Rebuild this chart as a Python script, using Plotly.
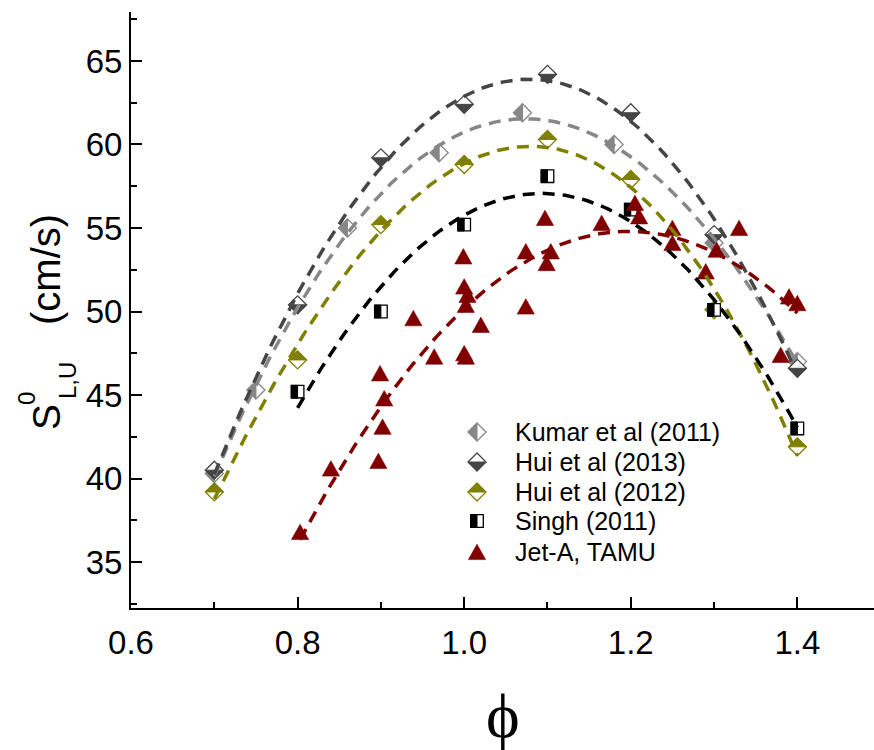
import numpy as np
import plotly.graph_objects as go

# ---- laminar flame speed data: equivalence ratio vs S_L,U (cm/s) ----
kumar_phi = [0.70, 0.75, 0.86, 0.97, 1.07, 1.18, 1.30, 1.40]
kumar_s = [40.3, 45.3, 55.0, 59.5, 61.9, 60.0, 54.1, 47.0]

hui13_phi = [0.70, 0.80, 0.90, 1.00, 1.10, 1.20, 1.30, 1.40]
hui13_s = [40.5, 50.4, 59.2, 62.4, 64.2, 61.9, 54.6, 46.6]

hui12_phi = [0.70, 0.80, 0.90, 1.00, 1.10, 1.20, 1.30, 1.40]
hui12_s = [39.2, 47.1, 55.2, 58.8, 60.3, 57.9, 50.1, 41.9]

singh_phi = [0.80, 0.90, 1.00, 1.10, 1.20, 1.30, 1.40]
singh_s = [45.2, 50.0, 55.2, 58.1, 56.1, 50.1, 43.0]

jeta_phi = [0.803, 0.840, 0.897, 0.902, 0.904, 0.899, 0.939, 0.964, 1.000, 1.002,
            1.002, 1.004, 1.000, 0.999, 1.020, 1.074, 1.074, 1.097, 1.099, 1.104,
            1.165, 1.205, 1.210, 1.250, 1.250, 1.290, 1.303, 1.330, 1.380, 1.390,
            1.400]
jeta_s = [36.8, 40.6, 41.05, 43.1, 44.8, 46.3, 49.6, 47.3, 47.5, 47.3,
          50.4, 51.0, 51.5, 53.3, 49.2, 50.3, 53.6, 55.6, 52.9, 53.6,
          55.3, 56.5, 55.7, 55.0, 54.1, 52.4, 53.7, 55.0, 47.4, 50.9,
          50.5]

series_names = ["Kumar et al (2011)", "Hui et al (2013)", "Hui et al (2012)",
                "Singh (2011)", "Jet-A, TAMU"]

x_ticks = [0.6, 0.8, 1.0, 1.2, 1.4]
x_tick_text = ["0.6", "0.8", "1.0", "1.2", "1.4"]
x_minor = [0.7, 0.9, 1.1, 1.3]
y_ticks = [35, 40, 45, 50, 55, 60, 65]
y_minor = [32.5, 37.5, 42.5, 47.5, 52.5, 57.5, 62.5, 67.5]

# ---- styling ----
C_KUMAR = "#878787"
C_HUI13 = "#454545"
C_HUI12 = "#808000"
C_SINGH = "#000000"
C_JETA = "#800000"

FONT = "Liberation Sans, Arial, sans-serif"
W, H = 874, 750
L, R, T, B = 131, 874, 12, 608


def px_x(px):
    return (px - L) / (R - L)


def px_y(py):
    return (B - py) / (B - T)


D = 9.0    # diamond half-diagonal (px)
S = 6.3    # square half-side (px)
OUTLINE = {
    "diamond": f"M {-D},0 L 0,{D} L {D},0 L 0,{-D} Z",
    "square": f"M {-S},{-S} L {S},{-S} L {S},{S} L {-S},{S} Z",
}
HALF = {
    ("diamond", "left"): f"M {-D},0 L 0,{D} L 0,{-D} Z",
    ("diamond", "bottom"): f"M {-D},0 L {D},0 L 0,{-D} Z",
    ("diamond", "top"): f"M {-D},0 L {D},0 L 0,{D} Z",
    ("square", "left"): f"M {-S},{-S} L 0,{-S} L 0,{S} L {-S},{S} Z",
}
TRI = "M -8.6,-7.6 L 8.6,-7.6 L 0,7.8 Z"


def anchored(x, y, xref, yref, layer):
    return dict(type="path", xref=xref, yref=yref, xsizemode="pixel",
                ysizemode="pixel", xanchor=x, yanchor=y, layer=layer)


def half_marker(x, y, kind, half, color, xref="x", yref="y", layer="below"):
    base = anchored(x, y, xref, yref, layer)
    return [
        dict(base, path=OUTLINE[kind], fillcolor="white",
             line=dict(color=color, width=1.3)),
        dict(base, path=HALF[(kind, half)], fillcolor=color,
             line=dict(color=color, width=1)),
    ]


def triangle(x, y, color, xref="x", yref="y", layer="below"):
    return dict(anchored(x, y, xref, yref, layer), path=TRI, fillcolor=color,
                line=dict(color=color, width=0.6))


groups = [
    (kumar_phi, kumar_s, "diamond", "left", C_KUMAR, 3),
    (hui13_phi, hui13_s, "diamond", "bottom", C_HUI13, 3),
    (hui12_phi, hui12_s, "diamond", "top", C_HUI12, 3),
    (singh_phi, singh_s, "square", "left", C_SINGH, 2),
]

fig = go.Figure()
shapes = []

# symbols are pixel-sized shapes anchored to the data coordinates;
# the scatter traces carry the same points for hovering
for (xs, ys, kind, half, color, _), name in zip(groups, series_names):
    for x, y in zip(xs, ys):
        shapes += half_marker(x, y, kind, half, color)
    size = 2 * D / 1.3 if kind == "diamond" else 2 * S
    fig.add_trace(go.Scatter(
        x=xs, y=ys, mode="markers", name=name,
        marker=dict(symbol=kind, size=size, opacity=0, color=color),
    ))

for x, y in zip(jeta_phi, jeta_s):
    shapes.append(triangle(x, y, C_JETA))
fig.add_trace(go.Scatter(
    x=jeta_phi, y=jeta_s, mode="markers", name=series_names[4],
    marker=dict(symbol="triangle-up", size=16, opacity=0, color=C_JETA),
))

# polynomial fits drawn as dashed curves over the data range
fit_sets = [(g[0], g[1], g[4], g[5]) for g in groups] + [(jeta_phi, jeta_s, C_JETA, 2)]
for xs, ys, color, deg in fit_sets:
    coef = np.polyfit(xs, ys, deg)
    xf = np.linspace(min(xs), max(xs), 120)
    fig.add_trace(go.Scatter(
        x=xf, y=np.polyval(coef, xf), mode="lines", showlegend=False,
        hoverinfo="skip",
        line=dict(color=color, width=3.5, dash="12px,8px"),
    ))

# legend block
leg_x, text_x = 477, 513
leg_rows = [432, 462, 492, 521, 552]
leg_specs = [("diamond", "left", C_KUMAR), ("diamond", "bottom", C_HUI13),
             ("diamond", "top", C_HUI12), ("square", "left", C_SINGH)]
annotations = []
for i, name in enumerate(series_names):
    yy = leg_rows[i]
    if i < 4:
        kind, half, color = leg_specs[i]
        shapes += half_marker(px_x(leg_x), px_y(yy), kind, half, color,
                              xref="paper", yref="paper", layer="above")
    else:
        shapes.append(triangle(px_x(leg_x), px_y(yy), C_JETA,
                               xref="paper", yref="paper", layer="above"))
    annotations.append(dict(x=px_x(text_x), y=px_y(yy), xref="paper", yref="paper",
                            text=name, showarrow=False, xanchor="left",
                            yanchor="middle", font=dict(size=25, family=FONT, color="black")))

# axis titles
annotations += [
    dict(x=px_x(503), y=px_y(715), xref="paper", yref="paper", text="ϕ",
         showarrow=False, xanchor="center", yanchor="middle",
         font=dict(size=64, family="Liberation Serif, DejaVu Serif, serif", color="black")),
    dict(x=px_x(46), y=px_y(417), xref="paper", yref="paper", text="S",
         textangle=-90, showarrow=False, xanchor="center", yanchor="middle",
         font=dict(size=39, family=FONT, color="black")),
    dict(x=px_x(26), y=px_y(398), xref="paper", yref="paper", text="0",
         textangle=-90, showarrow=False, xanchor="center", yanchor="middle",
         font=dict(size=24, family=FONT, color="black")),
    dict(x=px_x(67), y=px_y(381), xref="paper", yref="paper", text="L,U",
         textangle=-90, showarrow=False, xanchor="center", yanchor="middle",
         font=dict(size=24, family=FONT, color="black")),
    dict(x=px_x(46), y=px_y(270), xref="paper", yref="paper", text="(cm/s)",
         textangle=-90, showarrow=False, xanchor="center", yanchor="middle",
         font=dict(size=40, family=FONT, color="black")),
]

axis_common = dict(
    ticks="inside", ticklen=11, tickwidth=1.5, tickcolor="black",
    showline=True, linewidth=2, linecolor="black", showgrid=False,
    zeroline=False, tickfont=dict(size=33, family=FONT, color="black"),
)
fig.update_xaxes(range=[0.6, 1.492], tickvals=x_ticks, ticktext=x_tick_text,
                 ticklabelstandoff=4,
                 minor=dict(tickvals=x_minor, ticks="inside", ticklen=6,
                            tickwidth=1.5, tickcolor="black"),
                 **axis_common)
fig.update_yaxes(range=[32.25, 67.93], tickvals=y_ticks,
                 minor=dict(tickvals=y_minor, ticks="inside", ticklen=6,
                            tickwidth=1.5, tickcolor="black"),
                 **axis_common)

fig.update_layout(
    width=W, height=H, margin=dict(l=L, r=W - R, t=T, b=H - B),
    paper_bgcolor="white", plot_bgcolor="rgba(0,0,0,0)",
    showlegend=False, shapes=shapes, annotations=annotations,
    font=dict(family=FONT, color="black"), hovermode="closest",
)

fig.write_html("out.html")
